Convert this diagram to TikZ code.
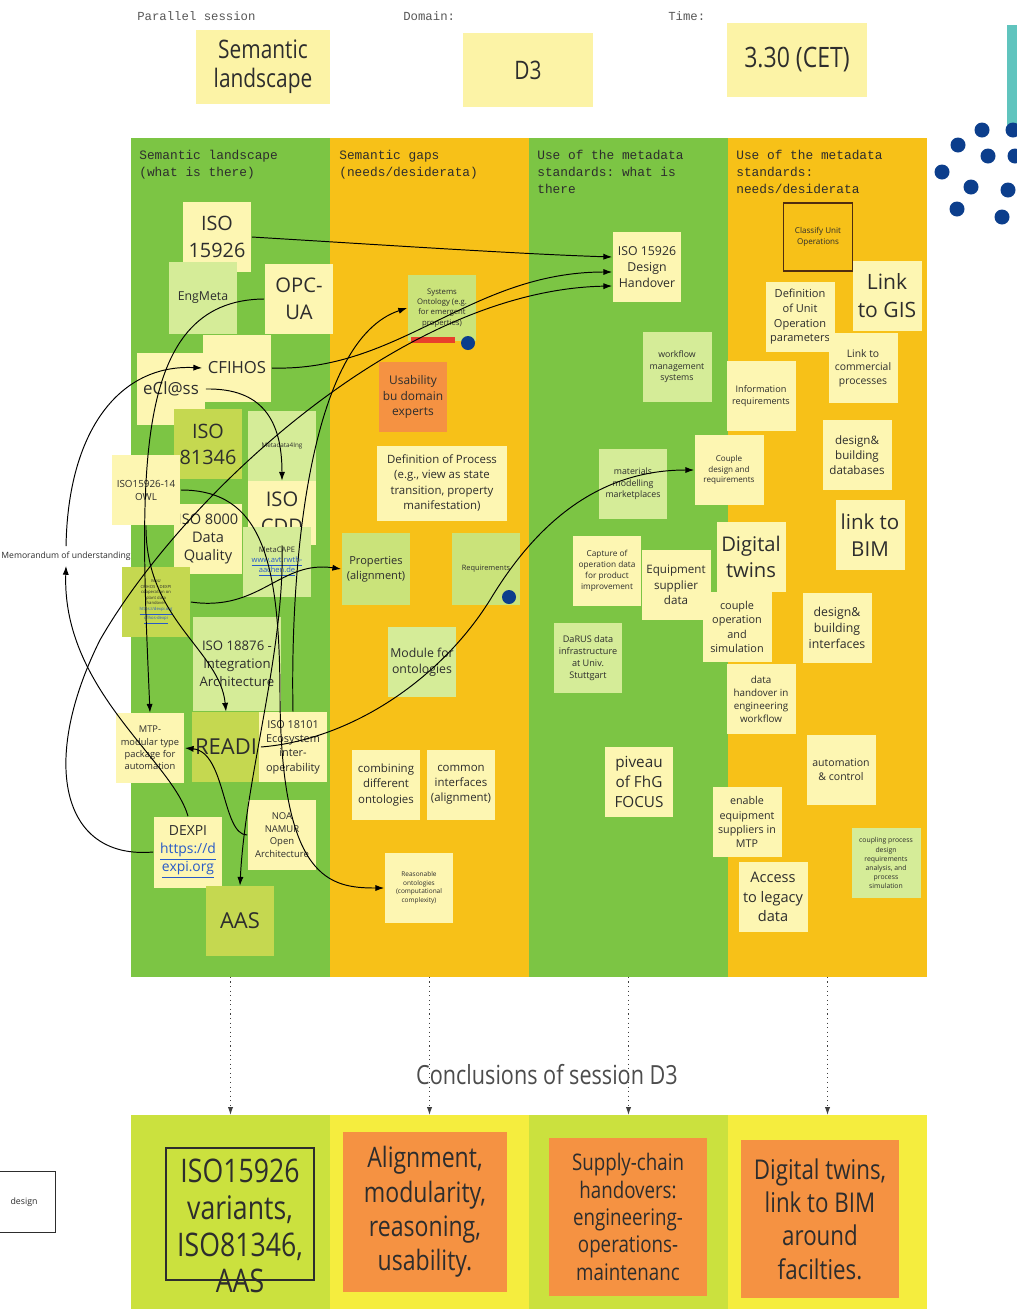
\documentclass[tikz,border=0pt]{standalone}
\usepackage{fontspec}
\setmainfont{Open Sans}
\setmonofont{Liberation Mono}
\newfontfamily\narrowfont[FakeStretch=0.82]{Open Sans}
\usetikzlibrary{arrows.meta,calc}

\definecolor{colgreen}{RGB}{124,197,68}
\definecolor{colamber}{RGB}{247,193,24}
\definecolor{notepale}{RGB}{253,246,178}
\definecolor{notehead}{RGB}{252,243,166}
\definecolor{noteleaf}{RGB}{213,236,152}
\definecolor{notesage}{RGB}{202,227,122}
\definecolor{noteolive}{RGB}{197,216,80}
\definecolor{notecoral}{RGB}{245,146,66}
\definecolor{bandlime}{RGB}{203,225,62}
\definecolor{bandyellow}{RGB}{245,237,62}
\definecolor{ink}{RGB}{45,45,45}
\definecolor{linkblue}{RGB}{40,90,200}
\definecolor{dotblue}{RGB}{12,62,140}
\definecolor{tealbar}{RGB}{96,196,190}
\definecolor{tagred}{RGB}{232,64,44}
\definecolor{framebrown}{RGB}{80,45,15}

\newcommand\sz[1]{\fontsize{#1}{\fpeval{round(1.32*#1,2)}}\selectfont}
\newcommand\weblink[1]{{\color{linkblue}\underline{#1}}}

\tikzset{
  note/.style={minimum width=1.38cm, minimum height=1.4cm, inner sep=1pt, align=center, text=ink},
  palenote/.style={note, fill=notepale},
  leafnote/.style={note, fill=noteleaf},
  sagenote/.style={note, fill=notesage},
  olivenote/.style={note, fill=noteolive},
  coralnote/.style={note, fill=notecoral},
  headnote/.style={note, fill=notehead, font={\narrowfont\fontsize{14.5}{16.5}\selectfont}},
  colbox/.style={minimum width=3.98cm, minimum height=16.78cm, inner sep=0, outer sep=0},
  bandbox/.style={minimum width=3.98cm, minimum height=3.88cm, inner sep=0, outer sep=0},
  colhead/.style={anchor=north west, align=left, inner sep=0, text=ink, font={\ttfamily\sz{7.3}}},
  toplabel/.style={anchor=west, inner sep=0, text=ink!80, font={\ttfamily\sz{7}}},
  link/.style={-{Latex[length=5pt,width=3.5pt]}, line width=0.55pt, black},
  summary/.style={dotted, line width=0.6pt, black!75, -{Latex[length=4.5pt,width=3pt]}},
}

\begin{document}
\begin{tikzpicture}[x=0.02cm, y=-0.02cm]
\useasboundingbox (0,0) rectangle (1017,1309);
\clip (0,0) rectangle (1017,1309);
\fill[white] (0,0) rectangle (1017,1309);

% session header
\node[toplabel] (lblsession) at (137,16) {Parallel session};
\node[toplabel] (lbldomain) at (403,16) {Domain:};
\node[toplabel] (lbltime) at (668,16) {Time:};
\node[headnote, minimum width=2.68cm, minimum height=1.5cm] (topic) at (263,67) {Semantic\\landscape};
\node[headnote, minimum width=2.62cm, minimum height=1.5cm] (domain) at (528,70) {D3};
\node[headnote, minimum width=2.82cm, minimum height=1.5cm, font={\narrowfont\sz{16}}] (slot) at (797,60) {3.30 (CET)};

% corner decoration
\fill[tealbar] (1007,25) rectangle (1017,125);
\foreach \dx/\dy in {982/130,1013/130,958/145,988/156,1015/156,942/172,971/187,1008/190,957/209,1002/217}
  \fill[dotblue] (\dx,\dy) circle[radius=7.5];

% columns
\node[colbox, fill=colgreen] (col1) at (230.5,557.5) {};
\node[colbox, fill=colamber] (col2) at (429.5,557.5) {};
\node[colbox, fill=colgreen] (col3) at (628.5,557.5) {};
\node[colbox, fill=colamber] (col4) at (827.5,557.5) {};
\node[colhead] (head1) at (139,150) {Semantic landscape\\(what is there)};
\node[colhead] (head2) at (339,150) {Semantic gaps\\(needs/desiderata)};
\node[colhead] (head3) at (537,150) {Use of the metadata\\standards: what is\\there};
\node[colhead] (head4) at (736,150) {Use of the metadata\\standards:\\needs/desiderata};

% semantic landscape
\node[palenote, font={\sz{11.3}}] (iso15926) at (217,237) {ISO\\15926};
\node[leafnote, minimum height=1.44cm, font={\sz{7}}] (engmeta) at (203,298) {EngMeta};
\node[palenote, font={\sz{11.5}}] (opcua) at (299,299) {OPC-\\UA};
\node[palenote, minimum height=1.34cm, font={\sz{9.5}}] (cfihos) at (237,368) {CFIHOS};
\node[palenote, minimum height=1.44cm, font={\sz{9.6}}] (eclass) at (171,389) {eCl@ss};
\node[olivenote, font={\sz{11.3}}] (iso81346) at (208,444) {ISO\\81346};
\node[leafnote, minimum height=1.42cm, font={\sz{3.6}}] (metadata4ing) at (282,446) {Metadata4Ing};
\node[palenote, minimum height=1.28cm, font={\sz{11.5}}] (cdd) at (282,513) {ISO\\CDD};
\node[palenote, font={\fontsize{8.3}{10.4}\selectfont}] (iso8000) at (208,539) {ISO 8000\\Data\\Quality};
\node[palenote, font={\sz{5.6}}] (owl) at (146,490) {ISO15926-14\\OWL};
\node[leafnote, font={\sz{4.3}}] (metacape) at (277,562) {MetaCAPE\\\weblink{www.avt.rwth-}\\\weblink{aachen.de}};
\node[olivenote, font={\sz{2.4}}] (mou) at (156,602) {MoU\\CFIHOS -- DEXPI\\cooperation on\\plant data\\handover\\\weblink{https://dexpi.org}\\\weblink{cfihos-dexpi}};
\node[leafnote, minimum width=1.76cm, minimum height=1.88cm, font={\fontsize{7.5}{10.4}\selectfont}] (iso18876) at (237,664) {ISO 18876 -\\Integration\\Architecture};
\node[palenote, font={\sz{5.3}}] (mtp) at (150,748) {MTP-\\modular type\\package for\\automation};
\node[olivenote, font={\sz{12.5}}] (readi) at (226,747) {READI};
\node[palenote, font={\sz{6.2}}] (iso18101) at (293,747) {ISO 18101\\Ecosystem\\inter-\\operability};
\node[palenote, font={\sz{5.4}}] (noa) at (282,835) {NOA\\NAMUR\\Open\\Architecture};
\node[palenote, minimum height=1.42cm, font={\sz{7.9}}] (dexpi) at (188,852) {DEXPI\\\weblink{https://d}\\\weblink{expi.org}};
\node[olivenote, font={\sz{12.5}}] (aas) at (240,921) {AAS};
\node[anchor=east, inner xsep=0, inner ysep=3pt, text=ink, font={\sz{4.9}}] (memo) at (131,556) {Memorandum of understanding};

% semantic gaps
\node[sagenote, minimum height=1.32cm, font={\sz{4.4}}] (sysont) at (442,308) {Systems\\Ontology (e.g.\\for emergent\\properties)};
\fill[tagred] (411,337) rectangle (455,343);
\fill[dotblue] (468,343) circle[radius=7];
\node[coralnote, font={\sz{6.8}}] (usability) at (413,397) {Usability\\bu domain\\experts};
\node[palenote, minimum width=2.62cm, minimum height=1.5cm, font={\sz{6.5}}] (defprocess) at (442,483) {Definition of Process\\(e.g., view as state\\transition, property\\manifestation)};
\node[sagenote, minimum height=1.44cm, font={\sz{6.3}}] (properties) at (376,569) {Properties\\(alignment)};
\node[sagenote, minimum height=1.44cm, font={\sz{4.2}}] (requirements) at (486,569) {Requirements};
\fill[dotblue] (509,597) circle[radius=7];
\node[leafnote, font={\sz{7}}] (module) at (422,662) {Module for\\ontologies};
\node[palenote, font={\sz{6.5}}] (combining) at (386,785) {combining\\different\\ontologies};
\node[palenote, font={\sz{6.5}}] (common) at (461,785) {common\\interfaces\\(alignment)};
\node[palenote, font={\sz{3.7}}] (reasonable) at (419,888) {Reasonable\\ontologies\\(computational\\complexity)};

% use of the metadata standards
\node[palenote, font={\sz{7}}] (handover) at (647,267) {ISO 15926\\Design\\Handover};
\node[leafnote, font={\sz{5}}] (workflow) at (677,367) {workflow\\management\\systems};
\node[leafnote, font={\sz{5}}] (materials) at (633,484) {materials\\modelling\\marketplaces};
\node[palenote, font={\sz{4.6}}] (coupledesign) at (729,470) {Couple\\design and\\requirements};
\node[palenote, font={\sz{4.7}}] (capture) at (607,571) {Capture of\\operation data\\for product\\improvement};
\node[palenote, font={\sz{6.6}}] (equipment) at (676,585) {Equipment\\supplier\\data};
\node[leafnote, font={\sz{5.2}}] (darus) at (588,658) {DaRUS data\\infrastructure\\at Univ.\\Stuttgart};
\node[palenote, font={\sz{8.7}}] (piveau) at (639,782) {piveau\\of FhG\\FOCUS};

% needs and desiderata
\node[note, draw=framebrown, line width=1pt, minimum height=1.36cm, font={\sz{4.6}}] (classify) at (818,237) {Classify Unit\\Operations};
\node[palenote, font={\sz{12}}] (linkgis) at (887,296) {Link\\to GIS};
\node[palenote, font={\sz{6.3}}] (defunit) at (800,317) {Definition\\of Unit\\Operation\\parameters};
\node[palenote, font={\sz{5.9}}] (linkcommercial) at (863,368) {Link to\\commercial\\processes};
\node[palenote, font={\sz{5.2}}] (inforeq) at (761,396) {Information\\requirements};
\node[palenote, font={\sz{6.6}}] (designdb) at (857,455) {design\&\\building\\databases};
\node[palenote, font={\sz{11.7}}] (linkbim) at (870,535) {link to\\BIM};
\node[palenote, font={\sz{11.5}}] (digitaltwins) at (751,557) {Digital\\twins};
\node[palenote, font={\sz{6.2}}] (coupleop) at (737,627) {couple\\operation\\and\\simulation};
\node[palenote, font={\sz{7}}] (designif) at (837,628) {design\&\\building\\interfaces};
\node[palenote, font={\sz{5.6}}] (datahandover) at (761,699) {data\\handover in\\engineering\\workflow};
\node[palenote, font={\sz{6}}] (automation) at (841,770) {automation\\\& control};
\node[palenote, font={\sz{6.1}}] (enable) at (747,822) {enable\\equipment\\suppliers in\\MTP};
\node[palenote, font={\sz{8.3}}] (access) at (773,897) {Access\\to legacy\\data};
\node[leafnote, font={\sz{3.9}}] (coupling) at (886,863) {coupling process\\design\\requirements\\analysis, and\\process\\simulation};

% connectors
\draw[link] (iso15926.east) .. controls (400,246) and (520,254) .. ($(handover.west)+(0,-10)$);
\draw[link] (cfihos.east) .. controls (400,372) and (470,272) .. ($(handover.west)+(0,5)$);
\draw[link] (dexpi.west) .. controls (60,860) and (40,760) .. (100,640)
  .. controls (180,500) and (400,290) .. ($(handover.west)+(0,19)$);
\draw[link] (memo.north) .. controls (68,430) and (120,364) .. (cfihos.west);
\draw[link] (dexpi.north) .. controls (172,760) and (62,690) .. (memo.south);
\draw[link] (eclass.east) .. controls (262,388) and (282,420) .. (cdd.north);
\draw[link] (opcua.west) .. controls (130,300) and (140,480) .. (mtp.north);
\draw[link] (owl.east) .. controls (262,490) and (280,560) .. (280,700)
  .. controls (282,880) and (330,888) .. (reasonable.west);
\draw[link] (owl.south) .. controls (145,620) and (220,650) .. (readi.north);
\draw[link] (iso18101.north) .. controls (290,560) and (310,340) .. (sysont.west);
\draw[link] (cdd.south) .. controls (285,650) and (245,780) .. (aas.north);
\draw[link] (noa.west) .. controls (222,835) and (226,752) .. (mtp.east);
\draw[link] (readi.east) .. controls (350,740) and (440,680) .. (490,600)
  .. controls (550,500) and (620,470) .. (coupledesign.west);
\draw[link] (mou.east) .. controls (260,612) and (280,560) .. (properties.west);

% conclusions
\node[font={\narrowfont\sz{15}}, text=ink!85] (concltitle) at (547,1075) {Conclusions of session D3};
\node[bandbox, fill=bandlime] (band1) at (230.5,1212) {};
\node[bandbox, fill=bandyellow] (band2) at (429.5,1212) {};
\node[bandbox, fill=bandlime] (band3) at (628.5,1212) {};
\node[bandbox, fill=bandyellow] (band4) at (827.5,1212) {};
\foreach \k in {1,2,3,4}
  \draw[summary] (col\k.south) -- (band\k.north);

\node[draw=ink, line width=0.7pt, minimum width=2.96cm, minimum height=2.64cm] (conclframe) at (240,1214) {};
\node[align=center, text=ink, font={\narrowfont\fontsize{18.5}{21}\selectfont}] (concl1) at (240,1226) {ISO15926\\variants,\\ISO81346,\\AAS};
\node[coralnote, minimum width=3.3cm, minimum height=3.2cm, font={\narrowfont\fontsize{16}{19.5}\selectfont}] (concl2) at (425,1212) {Alignment,\\modularity,\\reasoning,\\usability.};
\node[coralnote, minimum width=3.18cm, minimum height=3.16cm, font={\narrowfont\fontsize{13}{15.6}\selectfont}] (concl3) at (628,1217) {Supply-chain\\handovers:\\engineering-\\operations-\\maintenanc};
\node[coralnote, minimum width=3.18cm, minimum height=3.16cm, font={\narrowfont\fontsize{15.5}{19}\selectfont}] (concl4) at (820,1219) {Digital twins,\\link to BIM\\around\\facilties.};

\node[draw=ink, line width=0.6pt, fill=white, anchor=east, minimum height=1.22cm, inner xsep=0.36cm, text width=0.8cm, align=right, text=ink, font={\sz{5}}] (designbox) at (56,1202) {design};
\end{tikzpicture}
\end{document}
